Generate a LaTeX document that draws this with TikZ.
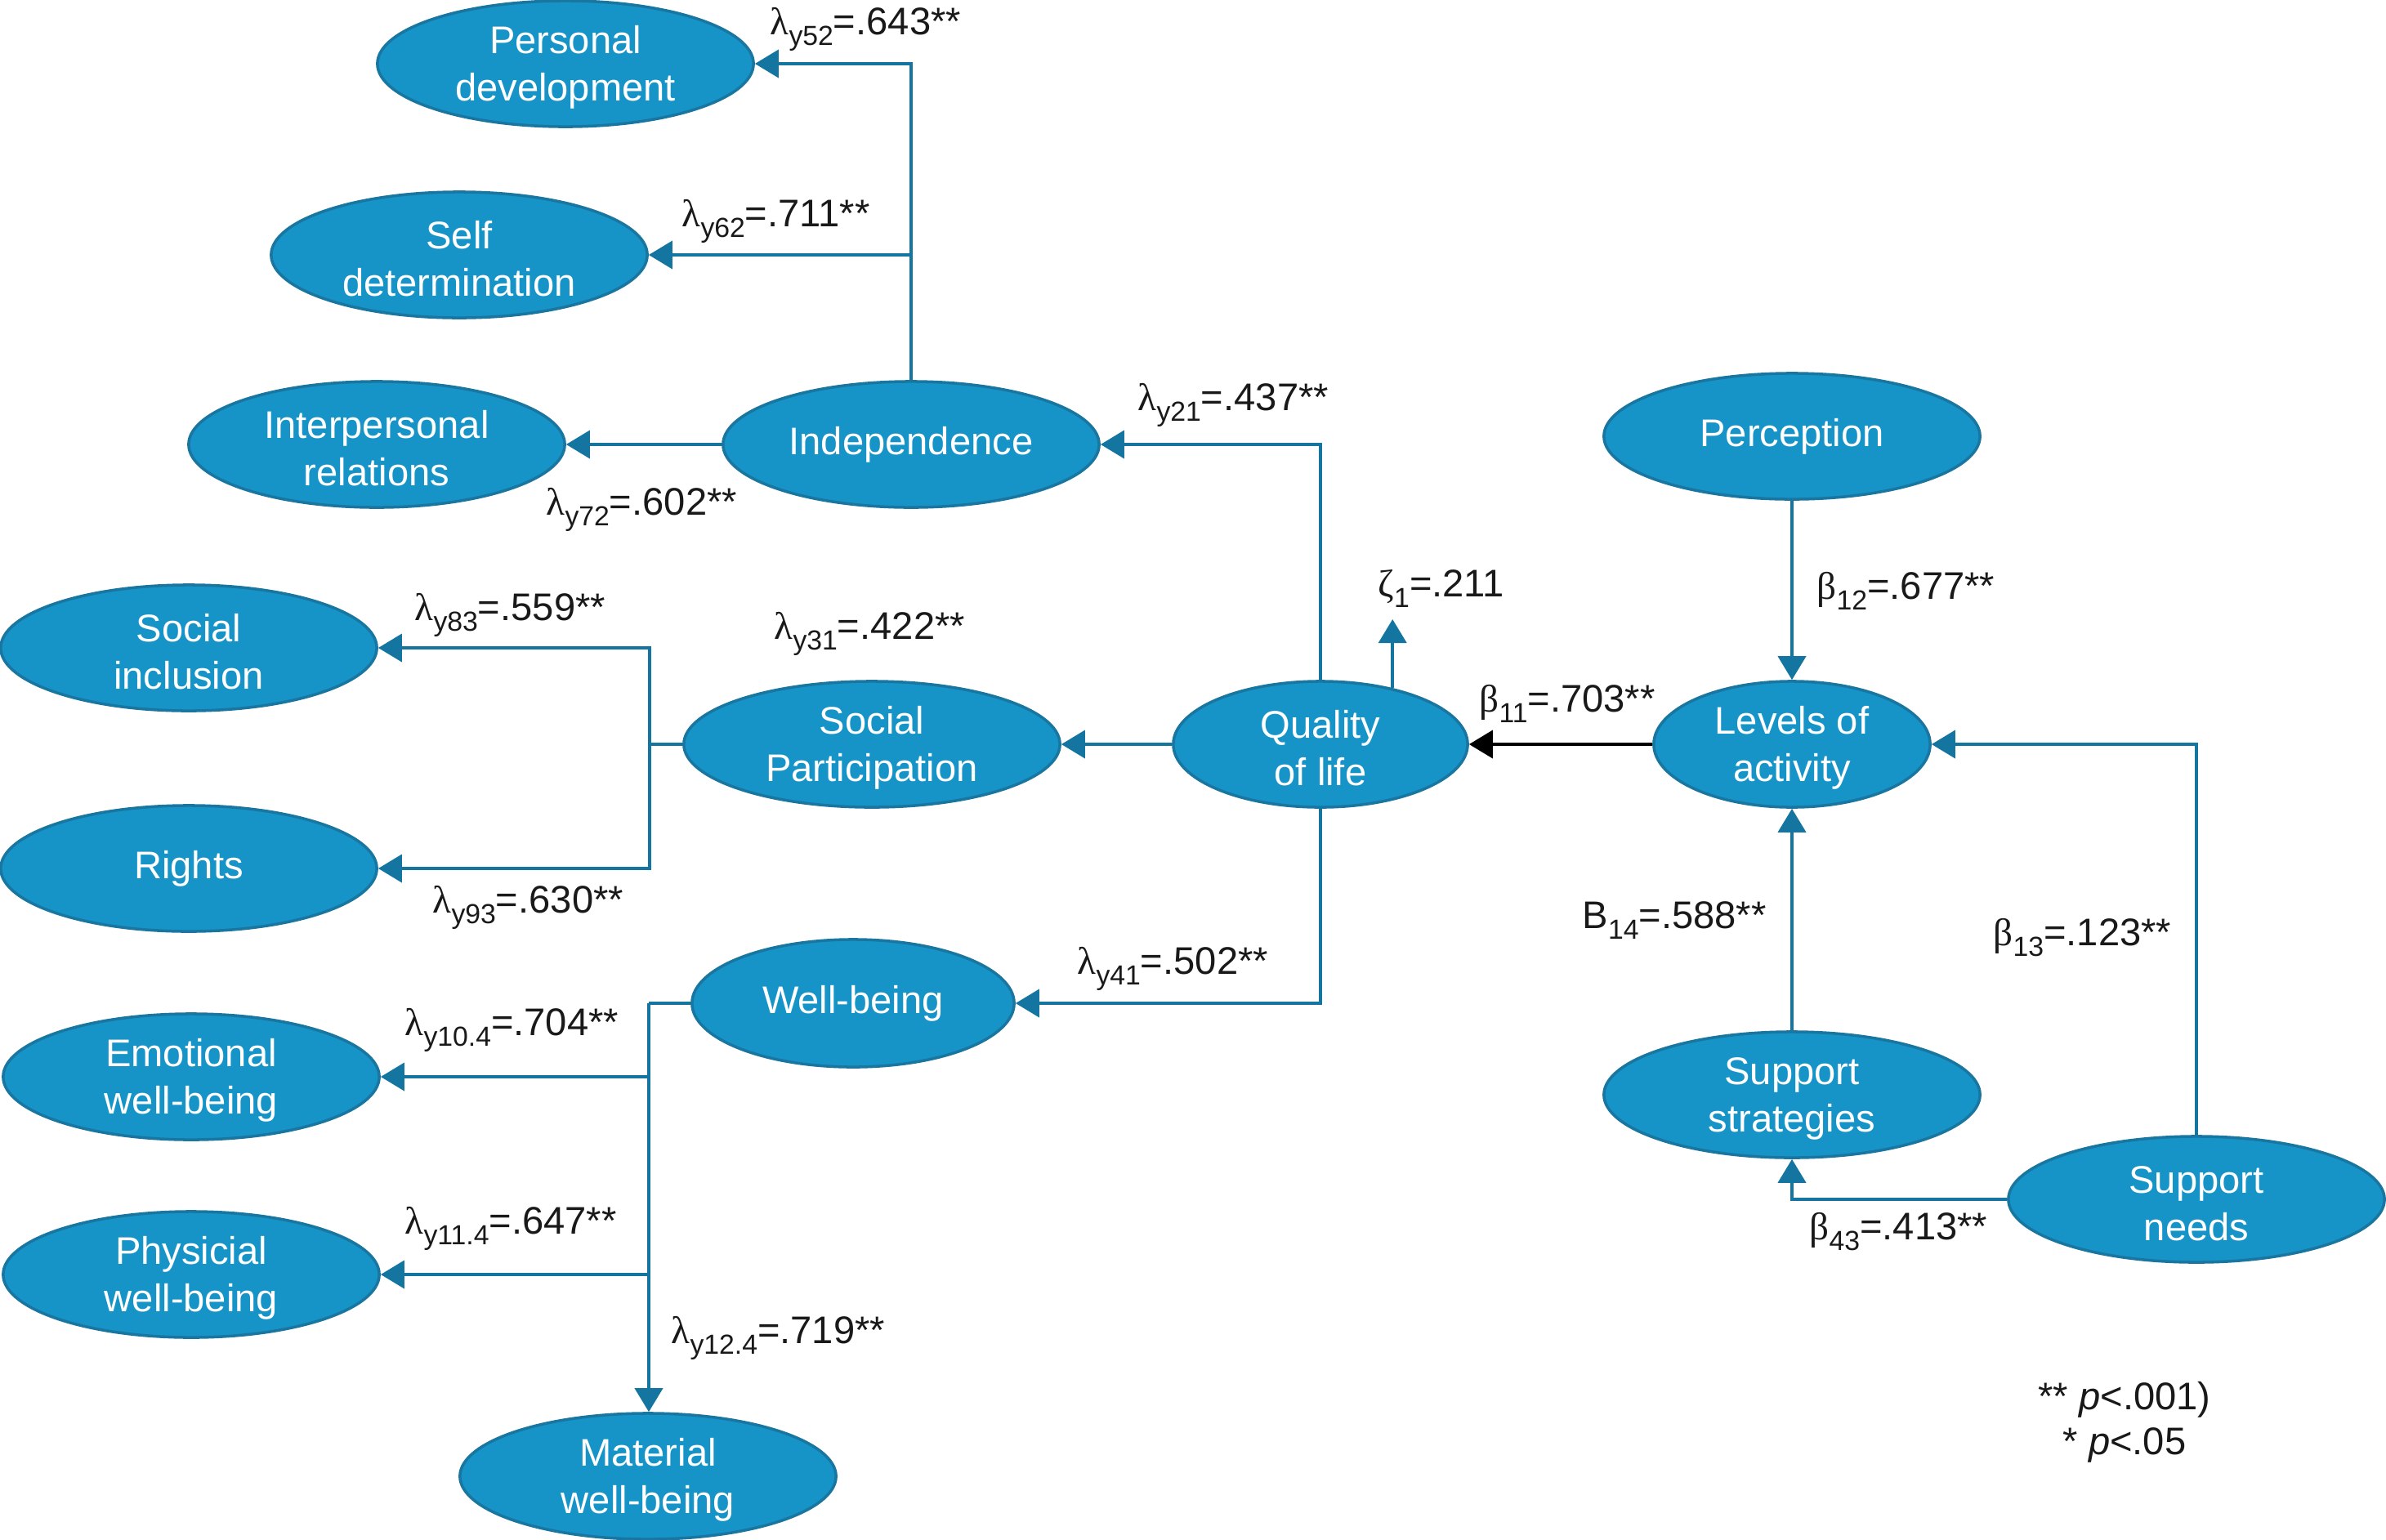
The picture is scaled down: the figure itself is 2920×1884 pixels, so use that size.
\documentclass[tikz,border=0pt]{standalone}
\usepackage{fontspec}
\setmainfont{Liberation Sans}
\newfontfamily\grk{Liberation Serif}
\usetikzlibrary{shapes.geometric,arrows.meta}
\definecolor{ellF}{RGB}{22,148,200}
\definecolor{ellB}{RGB}{24,118,160}
\definecolor{lineC}{RGB}{20,118,160}
\newcommand{\fs}{\fontsize{13.4pt}{16.5pt}\selectfont}
\newcommand{\mysub}[1]{\raisebox{-0.28em}{\fontsize{9.6pt}{10pt}\selectfont #1}}
\newcommand{\lam}[2]{{\grk λ}\mysub{#1}#2}
\newcommand{\bet}[2]{{\grk β}\mysub{#1}#2}
\newcommand{\tl}{\rule{0pt}{12.4pt}}
\begin{document}
\begin{tikzpicture}[x=0.01cm,y=-0.01cm,
  ell/.style={ellipse, draw=ellB, fill=ellF, line width=1pt, minimum width=4.6cm,
    minimum height=1.54cm, inner sep=0pt, inner ysep=-3pt, text=white, align=center, font=\fs},
  conn/.style={draw=lineC, line width=1.1pt, -{Triangle[length=0.29cm,width=0.34cm]}},
  plain/.style={draw=lineC, line width=1.1pt},
  connk/.style={draw=black, line width=1.1pt, -{Triangle[length=0.29cm,width=0.34cm]}},
  lbl/.style={anchor=base west, inner sep=0pt, font=\fs, text=black!90}]
\useasboundingbox (0,0) rectangle (2920,1884);
% nodes
\node[ell] (pd) at (692,78) {\tl Personal\\development};
\node[ell] (sd) at (562,312) {\tl Self\\determination};
\node[ell] (ir) at (461,544) {\tl Interpersonal\\relations};
\node[ell] (ind) at (1115,544) {Independence};
\node[ell] (si) at (231,793) {\tl Social\\inclusion};
\node[ell] (rights) at (231,1063) {Rights};
\node[ell] (sp) at (1067,911) {\tl Social\\Participation};
\node[ell, minimum width=3.6cm] (qol) at (1616,911) {\tl Quality\\of life};
\node[ell, minimum width=3.94cm, minimum height=1.56cm] (wb) at (1044,1228) {Well-being};
\node[ell] (ewb) at (234,1318) {\tl Emotional\\well-being};
\node[ell] (pwb) at (234,1560) {\tl Physicial\\well-being};
\node[ell] (mwb) at (793,1807) {\tl Material\\well-being};
\node[ell] (perc) at (2193,534) {Perception};
\node[ell, minimum width=3.38cm] (loa) at (2193,911) {\tl Levels of\\activity};
\node[ell] (ss) at (2193,1340) {\tl Support\\strategies};
\node[ell] (sn) at (2688,1468) {\tl Support\\needs};
% junctions
\coordinate (spj) at (795,911);
\coordinate (wbj) at (794,1228);
\coordinate (zt) at (1702,758);
% connectors
\draw[conn] (ind.north) |- (pd.east);
\draw[conn] (ind.north |- sd.east) -- (sd.east);
\draw[conn] (ind.west) -- (ir.east);
\draw[conn] (qol.north) |- (ind.east);
\draw[conn] (qol.west) -- (sp.east);
\draw[plain] (sp.west) -- (spj);
\draw[conn] (spj) |- (si.east);
\draw[conn] (spj) |- (rights.east);
\draw[conn] (qol.south) |- (wb.east);
\draw[plain] (wb.west) -- (wbj);
\draw[conn] (wbj) -- (wbj |- mwb.north);
\draw[conn] (wbj |- ewb.east) -- (ewb.east);
\draw[conn] (wbj |- pwb.east) -- (pwb.east);
\draw[conn] (qol.38) -- (qol.38 |- zt);
\draw[connk] (loa.west) -- (qol.east);
\draw[conn] (perc.south) -- (loa.north);
\draw[conn] (ss.north) -- (loa.south);
\draw[conn] (sn.north) |- (loa.east);
\draw[conn] (sn.west) -| (ss.south);
% labels
\node[lbl] (l52) at (942,42) {\lam{y52}{=.643**}};
\node[lbl] (l62) at (834,277) {\lam{y62}{=.711**}};
\node[lbl] (l72) at (668,630) {\lam{y72}{=.602**}};
\node[lbl] (l21) at (1392,502) {\lam{y21}{=.437**}};
\node[lbl] (l31) at (947,782) {\lam{y31}{=.422**}};
\node[lbl] (l83) at (507,759) {\lam{y83}{=.559**}};
\node[lbl] (l93) at (529,1117) {\lam{y93}{=.630**}};
\node[lbl] (l41) at (1318,1192) {\lam{y41}{=.502**}};
\node[lbl] (l104) at (495,1267) {\lam{y10.4}{=.704**}};
\node[lbl] (l114) at (495,1510) {\lam{y11.4}{=.647**}};
\node[lbl] (l124) at (821,1644) {\lam{y12.4}{=.719**}};
\node[lbl] (lz) at (1686,730) {{\grk ζ}\mysub{1}=.211};
\node[lbl] (b11) at (1810,871) {\bet{11}{=.703**}};
\node[lbl] (b12) at (2223,733) {\bet{12}{=.677**}};
\node[lbl] (b14) at (1936,1136) {B\mysub{14}=.588**};
\node[lbl] (b13) at (2439,1157) {\bet{13}{=.123**}};
\node[lbl] (b43) at (2214,1517) {\bet{43}{=.413**}};
\node[lbl, anchor=base] (leg1) at (2600,1725) {** \textit{p}<.001)};
\node[lbl, anchor=base] (leg2) at (2600,1780) {* \textit{p}<.05};
\end{tikzpicture}
\end{document}
